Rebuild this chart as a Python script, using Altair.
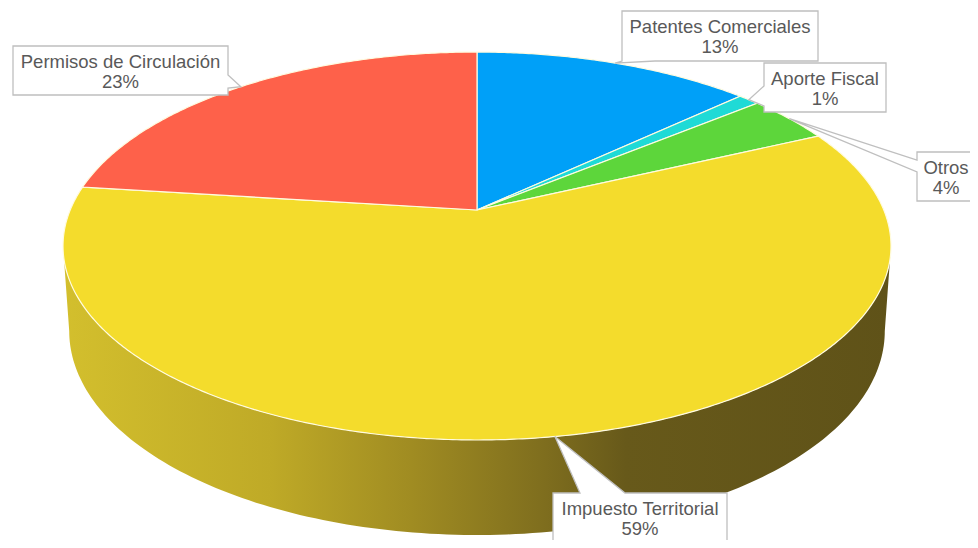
import numpy as np
import pandas as pd
import altair as alt

# ---- data ----
names = ["Patentes Comerciales", "Aporte Fiscal", "Otros", "Impuesto Territorial", "Permisos de Circulación"]
values = [13, 1, 4, 59, 23]
colors = ["#00a0f8", "#1fdad6", "#5dd63b", "#f4dc2c", "#fe614a"]

# ---- layout (3D projection of the pie, in page pixels) ----
CX, CY = 477, 210          # apex of the slices
RX, RY, K = 406.8, 187.3, 0.1856   # projected radii and perspective factor
SHRINK = 0.985             # bottom rim slightly narrower
D0, D1 = 82.7, 12.3        # wall depth (front deeper)

# label boxes: (left, top, right, bottom), side of pointer, pointer base
label_layout = {
    "Patentes Comerciales": ((622, 11, 818, 61), "bottom", (622, 655)),
    "Aporte Fiscal": ((764, 63, 886, 112), "left", (86, 106)),
    "Otros": ((917, 152, 975, 201), "left", (160, 172)),
    "Impuesto Territorial": ((553, 493, 727, 544), "top", (580, 625)),
    "Permisos de Circulación": ((13, 46, 228, 95), "right", (75, 88)),
}


def rim(theta_deg):
    t = np.radians(theta_deg)
    w = 1 + K * np.cos(t)
    return CX + RX * np.sin(t) / w, CY - RY * np.cos(t) / w


total = float(sum(values))
bounds = np.concatenate([[0], np.cumsum(values)]) / total * 360.0

# top face slices
rows = []
for i, name in enumerate(names):
    a0, a1 = bounds[i], bounds[i + 1]
    rows.append({"name": name, "i": 0, "x": CX, "y": CY})
    n = max(4, int((a1 - a0) * 2))
    for j, th in enumerate(np.linspace(a0, a1, n)):
        x, y = rim(th)
        rows.append({"name": name, "i": j + 1, "x": x, "y": y})
slices_df = pd.DataFrame(rows)

# front wall
th_r = np.degrees(np.arccos(-K))
th_l = 360 - th_r
ths = np.linspace(th_r, th_l, 160)
wall = []
k = 0
for th in ths:
    x, y = rim(th)
    wall.append({"i": k, "x": x, "y": y}); k += 1
for th in ths[::-1]:
    x, y = rim(th)
    d = D0 - D1 * np.cos(np.radians(th))
    wall.append({"i": k, "x": CX + (x - CX) * SHRINK, "y": y + d}); k += 1
wall_df = pd.DataFrame(wall)

# callouts
crow = []
trow = []
for i, name in enumerate(names):
    (l, t, r, b), side, base = label_layout[name]
    tip = rim((bounds[i] + bounds[i + 1]) / 2)
    if side == "bottom":
        pts = [(l, t), (r, t), (r, b), (base[1], b), tip, (base[0], b), (l, b)]
    elif side == "left":
        pts = [(l, t), (r, t), (r, b), (l, b), (l, base[1]), tip, (l, base[0])]
    elif side == "right":
        pts = [(l, t), (r, t), (r, base[0]), tip, (r, base[1]), (r, b), (l, b)]
    else:
        pts = [(l, t), (base[0], t), tip, (base[1], t), (r, t), (r, b), (l, b)]
    for j, (x, y) in enumerate(pts):
        crow.append({"name": name, "i": j, "x": x, "y": y})
    cx = (l + r) / 2
    trow.append({"x": cx, "y": t + 15.5, "text": name})
    trow.append({"x": cx, "y": t + 36, "text": f"{values[i]}%"})
callout_df = pd.DataFrame(crow)
text_df = pd.DataFrame(trow)

X = alt.X("x:Q", scale=alt.Scale(domain=[8, 970], nice=False, zero=False), axis=None)
Y = alt.Y("y:Q", scale=alt.Scale(domain=[8, 540], nice=False, zero=False, reverse=True), axis=None)

grad = alt.Gradient(
    gradient="linear",
    x1=0, x2=1, y1=0, y2=0,
    stops=[
        alt.GradientStop(color="#d3bf2d", offset=0),
        alt.GradientStop(color="#bfaa27", offset=0.25),
        alt.GradientStop(color="#a08c22", offset=0.42),
        alt.GradientStop(color="#7f6e1e", offset=0.58),
        alt.GradientStop(color="#67591a", offset=0.68),
        alt.GradientStop(color="#5f5218", offset=1),
    ],
)

wall_layer = alt.Chart(wall_df).mark_line(
    interpolate="linear-closed", filled=True, fill=grad, strokeWidth=0
).encode(x=X, y=Y, order=alt.Order("i:Q"))

slice_layer = alt.Chart(slices_df).mark_line(
    interpolate="linear-closed", filled=True, stroke="#fffbe0", strokeWidth=1.2
).encode(
    x=X, y=Y, order=alt.Order("i:Q"),
    color=alt.Color("name:N", scale=alt.Scale(domain=names, range=colors), legend=None),
)

callout_layer = alt.Chart(callout_df).mark_line(
    interpolate="linear-closed", filled=True, fill="white", stroke="#bfbfbf", strokeWidth=1.3
).encode(x=X, y=Y, order=alt.Order("i:Q"), detail="name:N")

text_layer = alt.Chart(text_df).mark_text(
    font="Liberation Sans", fontSize=18.5, color="#595959", align="center", baseline="middle"
).encode(x=X, y=Y, text="text:N")

chart = alt.layer(wall_layer, slice_layer, callout_layer, text_layer).properties(
    width=962, height=532, padding=0, autosize="none"
).configure_view(stroke=None)

chart.save("out.html", embed_options={"renderer": "svg", "actions": False})
